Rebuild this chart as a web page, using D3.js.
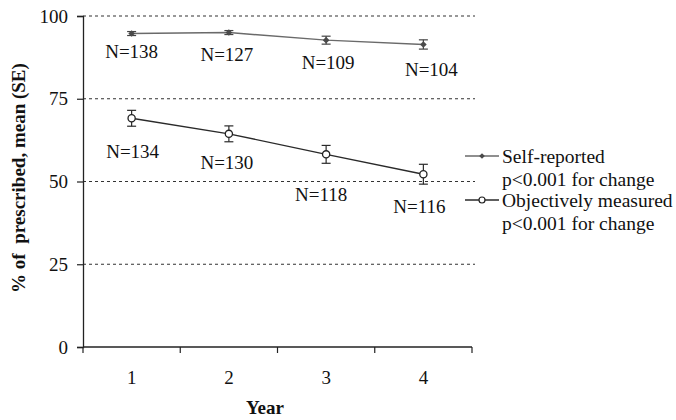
<!DOCTYPE html>
<html>
<head>
<meta charset="utf-8">
<script src="https://cdn.jsdelivr.net/npm/d3@7"></script>
<style>
  body { margin: 0; background: #fff; }
  svg { display: block; }
  text { font-family: "Liberation Serif", "Times New Roman", serif; fill: #111; }
</style>
</head>
<body>
<svg id="chart" width="676" height="420"></svg>
<script>
// ---- data ----
const years = [1, 2, 3, 4];
const selfReported = [94.7, 95.0, 92.7, 91.4];
const selfSE = [0.6, 0.6, 1.2, 1.4];
const selfN = [138, 127, 109, 104];
const objective = [69.1, 64.4, 58.2, 52.2];
const objectiveSE = [2.4, 2.4, 2.7, 3.0];
const objectiveN = [134, 130, 118, 116];
const yTicks = [0, 25, 50, 75, 100];
const gridValues = [25, 50, 75, 100];
const legendLabels = [["Self-reported", "p<0.001 for change"], ["Objectively measured", "p<0.001 for change"]];
// label anchor levels (value units) and small horizontal nudges (px) for the N annotations
const selfNLevel = [89.3, 88.4, 86.1, 83.7];
const selfNdx = [0, -2, 2, 8];
const objNLevel = [59.2, 55.6, 46.2, 42.3];
const objNdx = [1, -2, -5, -4];

const svg = d3.select("#chart");
const pLeft = 83, pRight = 472, pTop = 16, pBottom = 347;

const x = d3.scaleBand().domain(years).range([pLeft, pRight]).padding(0);
const y = d3.scaleLinear().domain([0, 100]).range([pBottom, pTop]);
const cx = d => x(d) + x.bandwidth() / 2;

// gridlines
svg.append("g").selectAll("line").data(gridValues).join("line")
  .attr("x1", pLeft).attr("x2", 475)
  .attr("y1", d => y(d)).attr("y2", d => y(d))
  .attr("stroke", "#333").attr("stroke-width", 1.1)
  .attr("stroke-dasharray", "3,3");

// y axis
const yAxis = svg.append("g").attr("transform", `translate(${pLeft},0)`)
  .call(d3.axisLeft(y).tickValues(yTicks).tickSize(6).tickPadding(9));
yAxis.select(".domain").attr("stroke", "#222").attr("stroke-width", 1.3);
yAxis.selectAll(".tick line").attr("stroke", "#222").attr("stroke-width", 1.2);
yAxis.selectAll(".tick text").style("font-family", '"Liberation Serif", serif')
  .style("font-size", "19px").attr("fill", "#111");

// x axis line and band-edge ticks
svg.append("line").attr("x1", pLeft).attr("x2", pRight)
  .attr("y1", pBottom).attr("y2", pBottom)
  .attr("stroke", "#222").attr("stroke-width", 1.3);
const edges = years.map(d => x(d)).concat([x(years[years.length - 1]) + x.bandwidth()]);
svg.append("g").selectAll("line").data(edges).join("line")
  .attr("x1", d => d).attr("x2", d => d)
  .attr("y1", pBottom).attr("y2", pBottom + 6)
  .attr("stroke", "#222").attr("stroke-width", 1.2);
svg.append("g").selectAll("text").data(years).join("text")
  .attr("x", d => cx(d)).attr("y", 377)
  .attr("text-anchor", "middle").attr("dominant-baseline", "central")
  .style("font-size", "19px").text(d => d);

// axis titles
svg.append("text").attr("x", 265).attr("y", 407)
  .attr("text-anchor", "middle").attr("dominant-baseline", "central")
  .style("font-size", "19px").style("font-weight", "bold").text("Year");
svg.append("text")
  .attr("transform", "translate(18,178) rotate(-90)")
  .attr("text-anchor", "middle").attr("dominant-baseline", "central")
  .style("font-size", "19px").style("font-weight", "bold")
  .style("white-space", "pre").attr("xml:space", "preserve")
  .text("% of  prescribed, mean (SE)");

const line = d3.line().x((d, i) => cx(years[i])).y(d => y(d));

function errorBars(values, se, color) {
  const g = svg.append("g");
  values.forEach((v, i) => {
    const px = cx(years[i]);
    const y1 = y(v + se[i]), y2 = y(v - se[i]);
    g.append("line").attr("x1", px).attr("x2", px).attr("y1", y1).attr("y2", y2)
      .attr("stroke", color).attr("stroke-width", 1.2);
    [y1, y2].forEach(yy => g.append("line")
      .attr("x1", px - 4.5).attr("x2", px + 4.5).attr("y1", yy).attr("y2", yy)
      .attr("stroke", color).attr("stroke-width", 1.2));
  });
}

// self-reported series
svg.append("path").datum(selfReported).attr("d", line)
  .attr("fill", "none").attr("stroke", "#6a6a6a").attr("stroke-width", 1.4);
errorBars(selfReported, selfSE, "#444");
const diamond = d3.symbol().type(d3.symbolSquare).size(22);
svg.append("g").selectAll("path").data(selfReported).join("path")
  .attr("d", diamond)
  .attr("transform", (d, i) => `translate(${cx(years[i])},${y(d)}) rotate(45)`)
  .attr("fill", "#4a4a4a");

// objective series
svg.append("path").datum(objective).attr("d", line)
  .attr("fill", "none").attr("stroke", "#2a2a2a").attr("stroke-width", 1.4);
errorBars(objective, objectiveSE, "#2a2a2a");
svg.append("g").selectAll("circle").data(objective).join("circle")
  .attr("cx", (d, i) => cx(years[i])).attr("cy", d => y(d)).attr("r", 3.6)
  .attr("fill", "#fff").attr("stroke", "#222").attr("stroke-width", 1.3);

// N annotations
svg.append("g").selectAll("text").data(selfN).join("text")
  .attr("x", (d, i) => cx(years[i]) + selfNdx[i]).attr("y", (d, i) => y(selfNLevel[i]))
  .attr("text-anchor", "middle").attr("dominant-baseline", "central")
  .style("font-size", "19px").text(d => "N=" + d);
svg.append("g").selectAll("text").data(objectiveN).join("text")
  .attr("x", (d, i) => cx(years[i]) + objNdx[i]).attr("y", (d, i) => y(objNLevel[i]))
  .attr("text-anchor", "middle").attr("dominant-baseline", "central")
  .style("font-size", "19px").text(d => "N=" + d);

// legend
const legend = svg.append("g");
const legendY = [156, 200];
legendLabels.forEach((lines, k) => {
  const ly = legendY[k];
  legend.append("line").attr("x1", 465).attr("x2", 499).attr("y1", ly).attr("y2", ly)
    .attr("stroke", k === 0 ? "#6a6a6a" : "#2a2a2a").attr("stroke-width", 1.3);
  if (k === 0) {
    legend.append("path").attr("d", d3.symbol().type(d3.symbolSquare).size(16))
      .attr("transform", `translate(482,${ly}) rotate(45)`).attr("fill", "#4a4a4a");
  } else {
    legend.append("circle").attr("cx", 482).attr("cy", ly).attr("r", 3)
      .attr("fill", "#fff").attr("stroke", "#222").attr("stroke-width", 1.2);
  }
  lines.forEach((t, j) => legend.append("text")
    .attr("x", 502).attr("y", ly + j * 23)
    .attr("dominant-baseline", "central")
    .style("font-size", "19.5px").text(t));
});
</script>
</body>
</html>
